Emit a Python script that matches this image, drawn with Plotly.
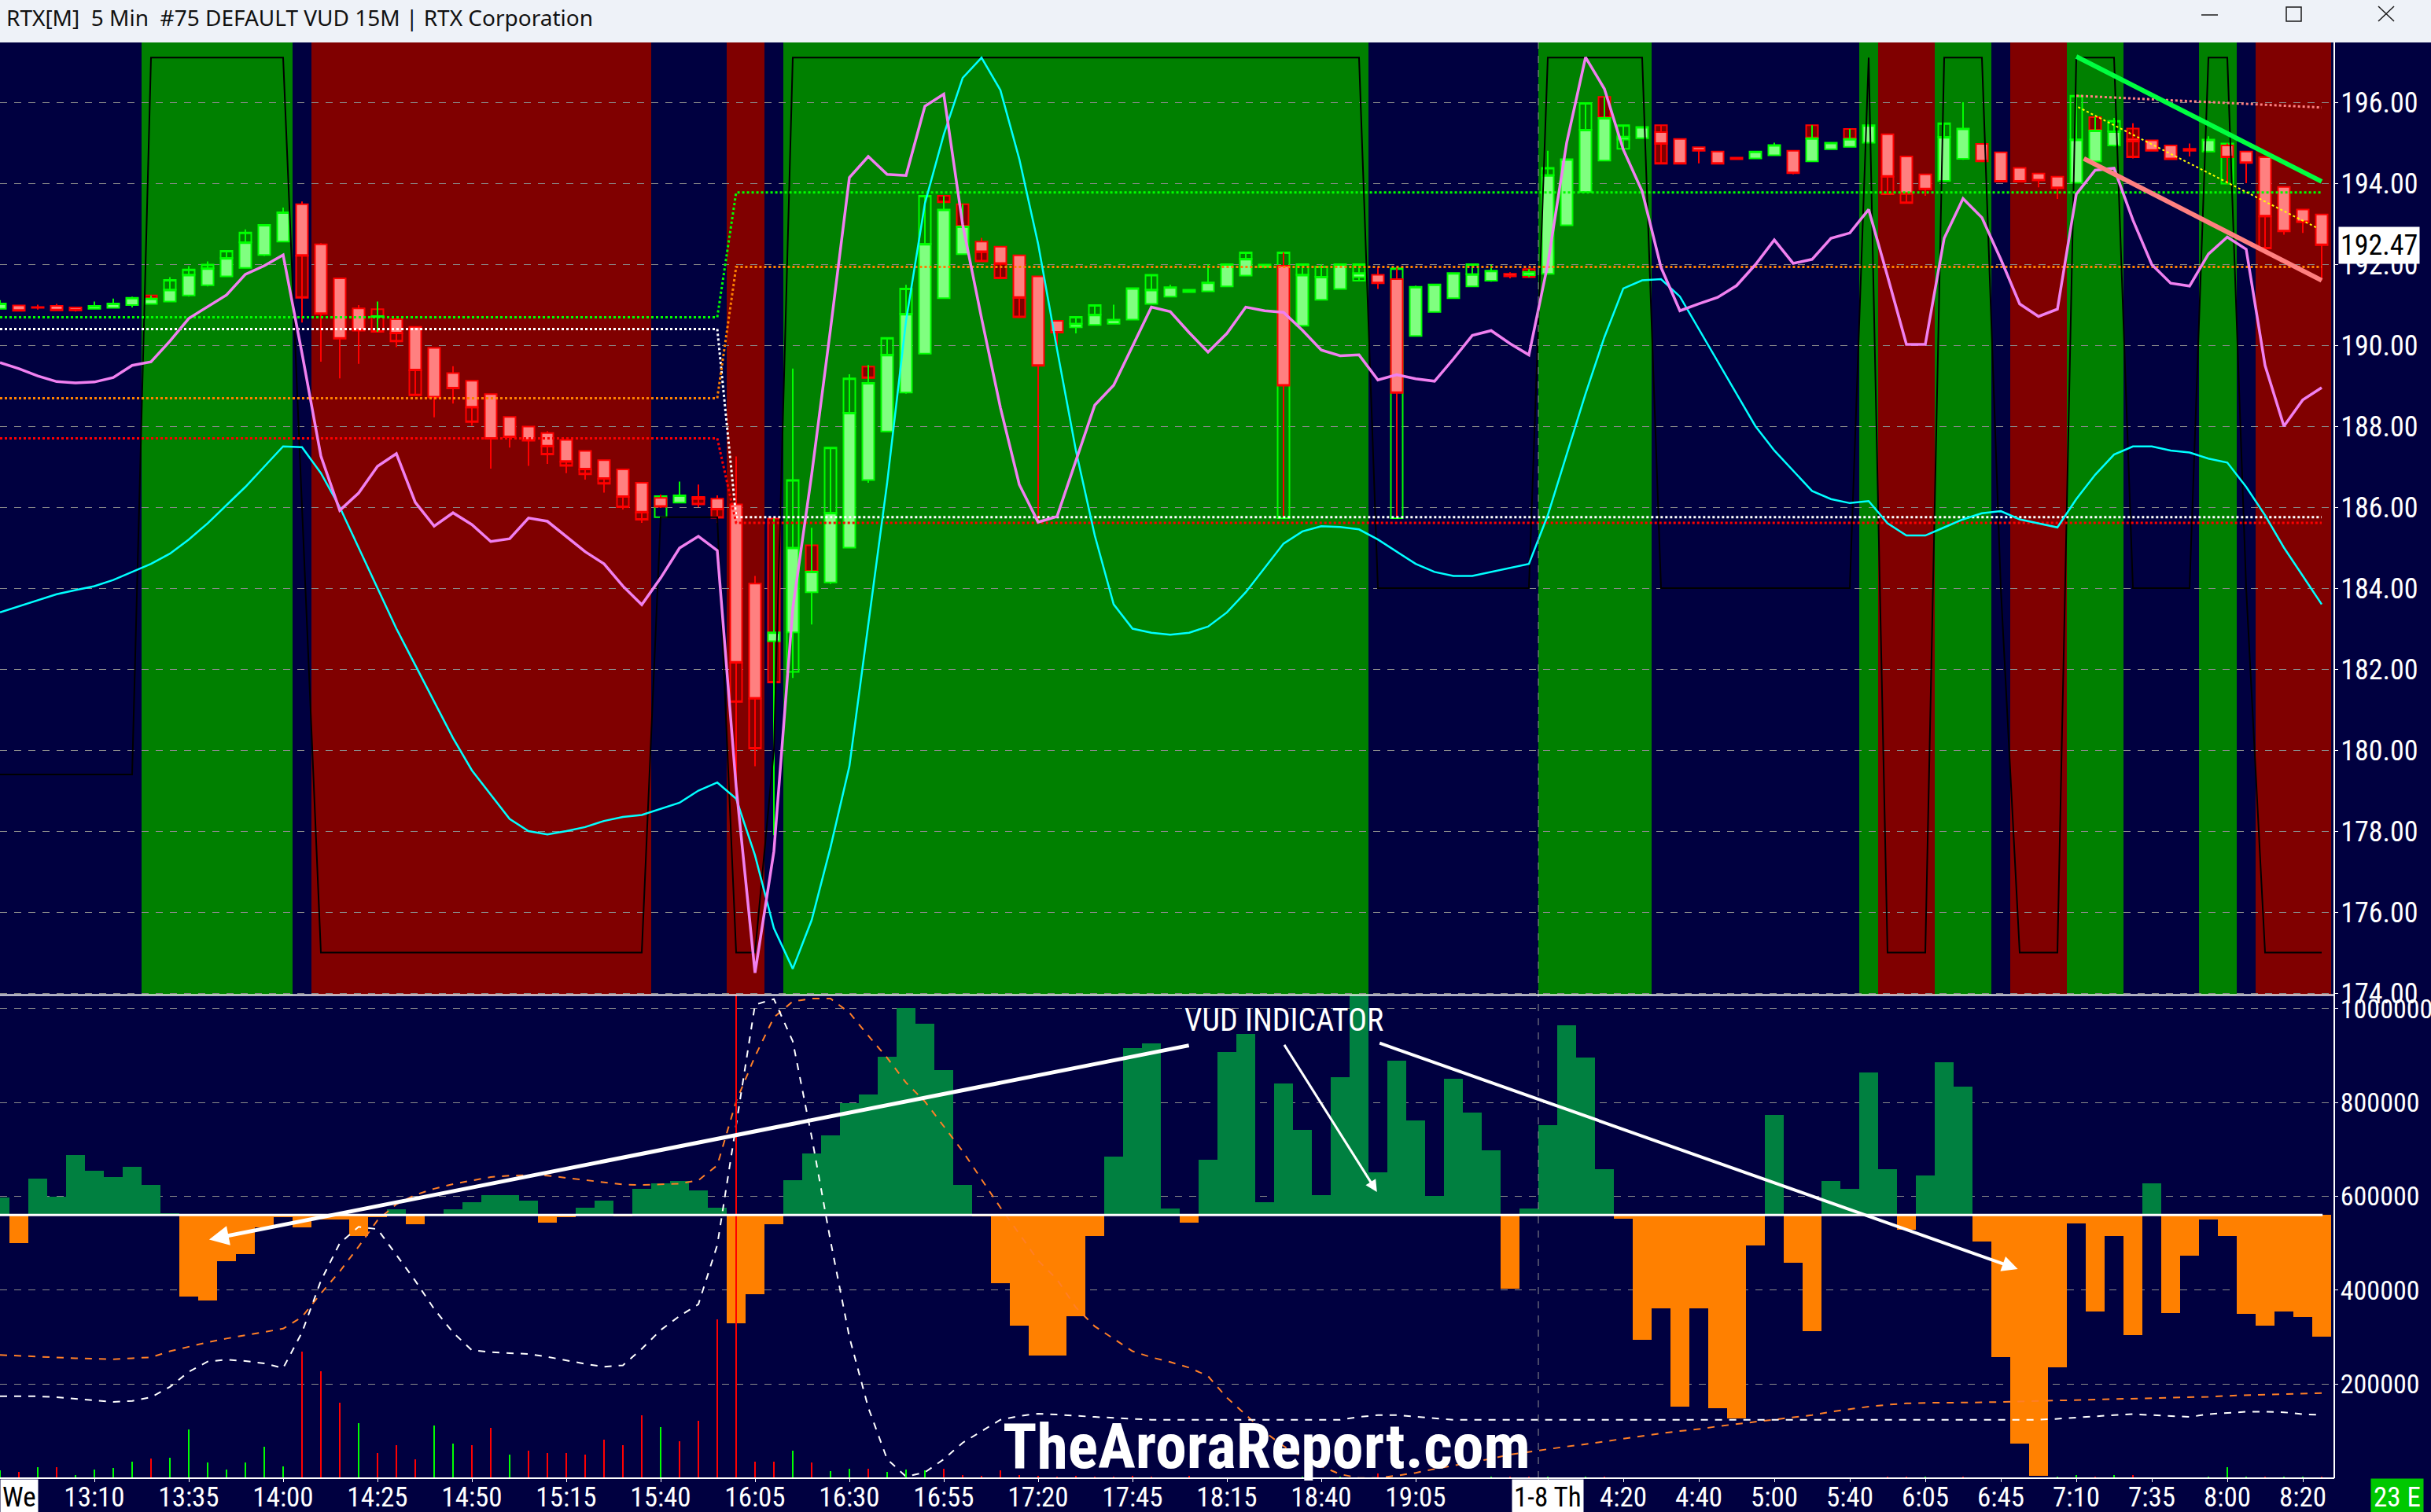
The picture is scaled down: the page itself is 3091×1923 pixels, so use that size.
import plotly.graph_objects as go

# ----------------------------------------------------------------- data
TITLE = "RTX[M]  5 Min  #75 DEFAULT VUD 15M | RTX Corporation"

OPEN = [190.90,190.98,190.94,190.97,190.93,190.90,190.92,190.99,191.02,191.08,
        191.23,191.48,191.70,191.91,192.23,192.56,193.48,192.49,191.65,190.91,
        190.70,190.64,190.45,189.93,189.31,189.12,188.79,188.23,187.99,187.83,
        187.66,187.39,187.16,186.93,186.60,186.23,186.11,186.24,186.21,186.07,
        184.11,182.69,182.91,183.90,184.14,185.00,186.67,187.87,188.83,189.79,
        191.16,192.25,192.56,192.43,192.22,191.70,190.60,190.44,190.50,190.53,
        190.63,191.02,191.20,191.31,191.33,191.45,191.72,191.92,191.96,190.48,
        191.12,191.39,191.68,191.74,191.63,190.23,190.82,191.16,191.45,191.59,
        191.76,191.73,191.76,192.96,193.78,194.56,195.08,195.11,195.26,195.09,
        194.89,194.78,194.63,194.61,194.69,194.80,194.54,194.84,194.90,195.00,
        195.21,194.66,194.22,194.06,194.60,194.97,194.76,194.38,194.24,194.16,
        194.01,194.54,194.93,195.09,195.06,194.93,194.85,194.78,194.93,194.78,
        194.64,193.91,193.35,193.23]
HIGH = [191.11,190.99,191.00,191.02,190.94,191.08,191.15,191.20,191.23,191.68,
        191.95,192.07,192.33,192.86,192.98,193.40,193.55,192.52,191.66,190.99,
        191.08,190.66,190.46,189.94,189.48,189.13,188.80,188.24,188.00,187.88,
        187.67,187.40,187.17,186.94,186.61,186.31,186.63,186.56,186.29,187.25,
        184.30,185.72,189.42,185.49,187.47,189.28,189.51,190.18,191.49,193.69,
        193.69,193.48,192.65,192.45,192.24,191.72,190.62,190.70,190.99,191.00,
        191.42,191.74,191.49,191.39,192.00,192.01,192.29,192.00,192.29,192.00,
        192.00,192.01,192.00,191.92,191.90,191.47,191.52,191.79,192.00,191.99,
        191.80,191.88,194.80,194.60,195.98,196.13,195.43,195.40,195.43,195.10,
        194.90,194.79,194.64,194.79,195.00,194.81,195.43,195.01,195.34,195.44,
        195.22,194.67,194.23,195.48,196.00,194.98,194.77,194.39,194.25,194.17,
        196.16,195.63,195.61,195.48,195.07,194.94,194.98,195.16,194.98,194.79,
        194.65,193.92,193.36,193.24]
LOW = [190.88,190.84,190.88,190.84,190.83,190.89,190.91,190.93,191.00,191.06,
       191.20,191.45,191.68,191.89,192.20,192.54,190.56,189.59,189.18,189.54,
       190.33,189.95,188.76,188.22,188.56,188.01,186.95,187.47,187.02,187.07,
       186.84,186.68,186.36,185.94,185.61,185.98,186.09,186.00,185.61,178.80,
       179.60,177.90,181.78,183.10,184.10,184.98,186.60,187.85,188.80,189.77,
       191.14,192.23,192.07,191.65,190.69,185.67,189.99,190.29,190.48,190.52,
       190.61,191.00,191.18,191.29,191.31,191.43,191.70,191.90,185.73,190.46,
       191.10,191.37,191.59,191.39,185.73,190.21,190.80,191.14,191.43,191.57,
       191.65,191.68,191.74,192.94,193.76,194.54,194.85,195.09,194.48,194.47,
       194.49,194.47,194.58,194.60,194.68,194.22,194.52,194.83,194.88,194.98,
       193.73,193.51,193.69,194.04,194.58,194.53,194.03,194.03,193.90,193.61,
       193.99,194.52,194.91,194.61,194.79,194.58,194.66,194.76,193.99,194.00,
       192.39,192.73,192.77,191.60]
CLOSE = [191.03,190.85,190.92,190.86,190.86,190.97,191.03,191.17,191.15,191.37,
         191.74,191.90,192.15,192.54,192.97,193.28,192.21,190.77,190.16,190.36,
         190.72,190.29,189.38,188.71,188.93,188.46,187.69,187.73,187.64,187.50,
         187.12,186.93,186.70,186.25,185.87,186.01,186.29,186.20,185.94,182.16,
         181.27,182.91,185.00,184.41,185.86,188.33,189.07,189.76,190.77,192.50,
         193.35,192.93,192.30,192.01,191.17,189.49,190.31,190.53,190.75,190.63,
         191.41,191.37,191.43,191.37,191.55,192.00,192.13,191.99,189.00,191.74,
         191.69,192.00,191.78,191.53,188.82,191.44,191.50,191.78,191.75,191.84,
         191.70,191.81,194.20,194.59,195.32,195.61,195.15,195.39,194.97,194.48,
         194.80,194.48,194.59,194.78,194.94,194.25,195.11,195.00,195.09,195.43,
         194.16,193.74,193.85,195.14,195.35,194.54,194.04,194.04,194.07,193.88,
         195.08,195.30,195.28,195.03,194.80,194.59,194.80,195.08,194.64,194.50,
         193.18,192.81,193.04,192.47]
LAST_PRICE = 192.47

# 15-minute "ghost" boxes: bar, top, bottom, direction (u = up / hollow, d = down / filled)
GHOST_BAR = [8,9,10,11,12,13,16,20,21,22,25,29,30,31,32,33,34,35,37,38,39,40,41,42,43,44,45,46,47,48,
             49,50,51,52,53,54,57,58,61,66,68,69,70,72,74,78,81,82,84,85,86,88,96,98,100,101,103,110,
             111,112,113,118,120]
GHOST_TOP = [191.23,191.61,191.87,191.99,192.33,192.78,192.21,190.89,190.29,189.38,188.46,187.50,187.12,
             186.93,186.70,186.25,185.87,186.27,186.25,185.94,182.16,181.27,185.72,186.67,185.06,187.47,
             189.18,189.47,190.18,191.40,193.69,193.69,193.48,192.30,192.01,191.17,190.70,190.99,191.74,
             192.29,192.29,192.00,191.94,192.00,191.90,192.00,191.88,194.38,195.98,196.13,195.43,195.43,
             195.43,195.34,194.16,193.74,195.48,196.16,195.63,195.54,195.35,194.98,193.18]
GHOST_BOT = [191.15,191.37,191.74,191.90,192.15,192.54,191.17,190.33,190.09,188.76,188.10,187.30,187.02,
             186.81,186.58,186.00,185.69,185.75,186.07,185.74,181.19,180.04,181.67,181.93,184.41,185.86,
             188.33,189.19,189.76,190.77,192.50,193.53,192.93,192.07,191.65,190.69,190.53,190.75,191.37,
             192.13,185.73,191.74,191.69,191.59,185.73,191.75,191.68,194.20,195.32,195.61,194.85,194.48,
             195.11,195.09,193.73,193.51,195.14,195.08,195.30,195.28,194.64,193.99,192.39]
GHOST_DIR = ("d" "uuuuu" "d" "ddd" "d" "dddd" "dd" "u" "dd" "ddd" "u" "d" "uu" "d" "uuu" "ddddd"
             "uu" "u" "u" "u" "uu" "u" "u" "u" "d" "u" "u" "d" "u" "d" "dd" "dd" "u" "u" "d" "u" "d" "u" "d")

PINK = [189.57,189.42,189.24,189.10,189.07,189.09,189.20,189.50,189.59,190.10,
        190.66,190.95,191.24,191.75,191.96,192.23,189.80,187.26,185.92,186.35,
        187.01,187.32,186.12,185.53,185.86,185.57,185.15,185.22,185.73,185.65,
        185.28,184.90,184.60,184.05,183.59,184.25,184.99,185.28,184.93,179.10,
        174.50,177.50,183.50,186.80,190.40,194.14,194.66,194.22,194.19,195.90,
        196.20,192.98,190.67,188.46,186.56,185.63,185.77,187.13,188.52,189.01,
        189.98,190.94,190.83,190.31,189.83,190.29,190.94,190.85,190.81,190.37,
        189.88,189.74,189.76,189.14,189.27,189.17,189.11,189.66,190.24,190.36,
        190.04,189.76,192.00,195.00,197.11,196.33,194.83,193.80,191.92,190.85,
        191.02,191.18,191.47,191.99,192.60,192.02,192.12,192.64,192.77,193.35,
        191.70,190.02,190.02,192.64,193.62,193.15,192.12,191.02,190.71,190.89,
        193.73,194.32,194.37,193.09,191.99,191.53,191.46,192.25,192.67,192.37,
        189.50,188.00,188.65,188.95]
CYAN = [183.40,183.55,183.70,183.85,183.95,184.05,184.20,184.40,184.60,184.85,
        185.20,185.60,186.04,186.50,187.00,187.50,187.48,186.84,186.00,185.00,
        184.00,183.00,182.10,181.20,180.30,179.50,178.90,178.30,178.00,177.92,
        178.00,178.10,178.25,178.35,178.40,178.55,178.70,179.00,179.20,178.80,
        177.40,175.60,174.60,175.80,177.60,179.60,183.10,186.60,190.60,193.50,
        195.20,196.60,197.10,196.30,194.60,192.50,189.90,187.40,185.30,183.60,
        183.00,182.90,182.85,182.90,183.05,183.40,183.90,184.50,185.10,185.40,
        185.53,185.51,185.45,185.20,184.90,184.60,184.40,184.30,184.30,184.40,
        184.50,184.60,185.80,187.30,188.80,190.20,191.40,191.60,191.63,191.20,
        190.40,189.60,188.80,188.00,187.40,186.90,186.40,186.20,186.10,186.15,
        185.60,185.30,185.30,185.50,185.70,185.85,185.90,185.70,185.60,185.50,
        186.20,186.80,187.30,187.50,187.50,187.40,187.35,187.20,187.10,186.50,
        185.80,185.00,184.30,183.60]

# background signal runs: (number of bars, state, signal-line level)
BAND_RUNS = [(8, "N", 179.4), (8, "G", 197.1), (1, "N", 186.0), (18, "R", 175.0), (4, "N", 185.75),
             (2, "R", 175.0), (1, "N", 180.0), (31, "G", 197.1), (9, "N", 184.0), (6, "G", 197.1),
             (11, "N", 184.0), (1, "G", 197.1), (3, "R", 175.0), (3, "G", 197.1), (1, "N", 184.0),
             (3, "R", 175.0), (3, "G", 197.1), (4, "N", 184.0), (2, "G", 197.1), (1, "N", 184.0),
             (4, "R", 175.0)]

# dotted support/resistance levels (change at LEVEL_SWITCH_BAR)
LEVEL_SWITCH_BAR = 39
LEVELS_BEFORE = {"green": 190.69, "white": 190.40, "orange": 188.69, "red": 187.70}
LEVELS_AFTER = {"green": 193.77, "white": 185.75, "orange": 191.93, "red": 185.61}
RESIST_X = [110, 123]
RESIST_Y = [196.16, 195.87]

# hand-drawn trend lines (bar, price)
GREEN_TREND_X, GREEN_TREND_Y = [110.0, 123.0], [197.13, 194.04]
SALMON_TREND_X, SALMON_TREND_Y = [110.4, 123.0], [194.61, 191.60]
YELLOW_TREND_X, YELLOW_TREND_Y = [110.1, 122.7], [195.88, 192.91]

# VUD indicator (thousands)
VUD_BASELINE = 560000
VUD_K = [598,501,638,599,688,655,641,662,625,564,
         386,378,462,477,534,555,534,551,551,516,
         556,573,540,562,573,587,603,603,591,543,
         556,576,591,558,616,627,633,613,576,330,
         391,541,635,692,730,799,816,898,1001,967,
         868,625,558,415,325,260,260,344,516,685,
         915,925,574,543,678,908,945,587,840,741,
         603,853,1040,651,888,762,601,851,779,698,
         403,574,752,964,895,657,553,294,361,152,
         361,149,126,496,773,459,312,633,616,863,
         657,528,645,885,833,504,258,74,5,235,
         542,355,516,304,628,351,474,551,516,350,
         324,354,343,301]
WHITE_DASH_K = [174,174,174,172,169,166,162,164,172,194,
                226,248,252,249,244,234,310,420,500,535,
                530,475,420,360,310,272,268,266,264,258,
                250,243,237,240,275,315,345,370,496,749,
                1008,1020,930,727,505,300,150,40,3,12,
                40,75,100,124,132,137,135,132,130,128,
                126,124,124,124,124,124,124,124,124,124,
                124,124,130,134,134,131,128,124,124,124,
                124,124,124,124,124,124,124,124,124,124,
                124,124,124,124,124,124,124,124,124,124,
                124,124,124,124,124,124,124,124,124,126,
                129,132,134,136,134,132,130,136,139,141,
                141,140,136,134]
ORANGE_DASH_K = [262,260,258,257,255,254,253,255,257,270,
                 280,289,297,304,310,318,343,393,440,493,
                 549,583,603,616,626,634,641,644,645,644,
                 639,634,629,625,624,625,627,634,666,802,
                 898,981,1015,1021,1021,991,942,895,842,802,
                 749,696,636,576,520,463,423,363,323,297,
                 270,257,247,235,217,171,134,98,68,44,
                 25,8,0,0,5,11,19,26,34,41,
                 50,56,61,67,72,78,84,90,95,100,
                 104,110,115,120,124,129,134,141,147,152,
                 156,159,160,160,161,161,162,163,163,164,
                 165,166,167,168,169,170,172,173,175,176,
                 177,178,180,181]
VOLUME = [10,8,14,14,4,11,13,21,25,26,
          62,20,11,20,40,15,161,136,96,70,
          32,42,24,67,44,42,64,30,35,32,
          32,30,49,42,80,65,47,73,202,900,
          21,21,35,20,9,12,12,8,11,10,
          12,4,3,10,4,3,2,3,2,2,
          3,2,0,3,0,0,0,0,0,2,
          0,2,0,6,0,0,0,0,0,2,
          2,2,2,0,2,2,0,0,0,0,
          0,0,0,0,0,0,0,0,0,0,
          2,2,2,0,2,0,0,0,0,2,
          4,2,4,4,0,0,0,2,14,2,
          2,2,2,2]
VOLUME_SIDE = ("grgrggggrg" "ggggggrrrg" "rrrggrrgrr" "rrrrrgrrrr" "rrgrggrggg" "rrrrrrrrrr"
               "rrrrrrrrrg" "rgrrrrrrrg" "rrgrgrrrrr" "rrrrrrrrrr" "rrgrrrrrrg" "grgrrrrggg" "rggr")

# annotation arrows on VUD panel: tail bar, tail value, head bar, head value, width
ARROWS = [(63.05, 921800, 11.08, 508000, 5),
          (68.0, 925000, 72.95, 609300, 3),
          (73.03, 927100, 106.9, 445000, 4)]

TICK_BARS = [5,10,15,20,25,30,35,40,45,50,55,60,65,70,75,82,86,90,94,98,102,106,110,114,118,122]
TICK_LABELS = ["13:10","13:35","14:00","14:25","14:50","15:15","15:40","16:05","16:30","16:55",
               "17:20","17:45","18:15","18:40","19:05","","4:20","4:40","5:00","5:40","6:05",
               "6:45","7:10","7:35","8:00","8:20"]
SESSION_BREAK_BAR = 82
PRICE_TICKS = [174,176,178,180,182,184,186,188,190,192,194,196]
VUD_TICKS = [200000,400000,600000,800000,1000000]

# ----------------------------------------------------------------- style
NAVY = "#000040"
BAND_COLOR = {"N": NAVY, "G": "#008000", "R": "#800000"}
NARROW = ("Liberation Sans Narrow, Arial Narrow, Roboto Condensed, Noto Sans Condensed, "
          "DejaVu Sans Condensed, Liberation Sans, sans-serif")
W, H = 3091, 1923
ML, MR, MT, MB = 0, 123, 54, 43
PW, PH = W - ML - MR, H - MT - MB


def px(x):
    return (x - ML) / PW


def py(y):
    return (H - MB - y) / PH


N = len(CLOSE)
BARS = list(range(N))
main_dom = [py(1265), 1.0]
low_dom = [0.0, py(1266)]

fig = go.Figure()

# ---- main panel: background bands and signal line
shapes = []
signal = []
start = 0
for length, state, level in BAND_RUNS:
    shapes.append(dict(type="rect", xref="x", yref="y domain", x0=start - 0.5, x1=start + length - 0.5,
                       y0=0, y1=1, fillcolor=BAND_COLOR[state], line=dict(width=0), layer="below"))
    signal += [level] * length
    start += length

fig.add_trace(go.Scatter(x=BARS, y=signal, mode="lines", line=dict(color="#000000", width=2),
                         xaxis="x", yaxis="y", hoverinfo="skip"))

# ---- ghost (15 min) boxes and candles
g_open = [b if d == "u" else t for t, b, d in zip(GHOST_TOP, GHOST_BOT, GHOST_DIR)]
g_close = [t if d == "u" else b for t, b, d in zip(GHOST_TOP, GHOST_BOT, GHOST_DIR)]
fig.add_trace(go.Candlestick(x=GHOST_BAR, open=g_open, close=g_close, high=GHOST_TOP, low=GHOST_BOT,
                             increasing=dict(fillcolor="rgba(0,0,0,0)", line=dict(color="#00ff00", width=2)),
                             decreasing=dict(fillcolor="#800000", line=dict(color="#ff0000", width=2)),
                             whiskerwidth=0, xaxis="x", yaxis="y", hoverinfo="skip"))
fig.add_trace(go.Candlestick(x=BARS, open=OPEN, high=HIGH, low=LOW, close=CLOSE,
                             increasing=dict(fillcolor="#80ff80", line=dict(color="#00ff00", width=2)),
                             decreasing=dict(fillcolor="#ff8080", line=dict(color="#ff0000", width=2)),
                             whiskerwidth=0, xaxis="x", yaxis="y", hoverinfo="skip"))

# ---- dotted levels
level_colors = {"green": "#00ff00", "white": "#ffffff", "orange": "#ff8000", "red": "#ff0000"}
for name, col in level_colors.items():
    ys = [LEVELS_BEFORE[name] if i < LEVEL_SWITCH_BAR else LEVELS_AFTER[name] for i in BARS]
    fig.add_trace(go.Scatter(x=BARS, y=ys, mode="lines", line=dict(color=col, width=3, dash="dot"),
                             xaxis="x", yaxis="y", hoverinfo="skip"))
fig.add_trace(go.Scatter(x=RESIST_X, y=RESIST_Y, mode="lines", line=dict(color="#ff8080", width=3, dash="dot"),
                         xaxis="x", yaxis="y", hoverinfo="skip"))

# ---- oscillator lines
fig.add_trace(go.Scatter(x=BARS, y=CYAN, mode="lines", line=dict(color="#00ffff", width=2.5),
                         xaxis="x", yaxis="y", hoverinfo="skip"))
fig.add_trace(go.Scatter(x=BARS, y=PINK, mode="lines", line=dict(color="#f080f0", width=3.5),
                         xaxis="x", yaxis="y", hoverinfo="skip"))

# ---- trend lines
fig.add_trace(go.Scatter(x=GREEN_TREND_X, y=GREEN_TREND_Y, mode="lines", line=dict(color="#00ff40", width=6),
                         xaxis="x", yaxis="y", hoverinfo="skip"))
fig.add_trace(go.Scatter(x=SALMON_TREND_X, y=SALMON_TREND_Y, mode="lines", line=dict(color="#ff8080", width=6),
                         xaxis="x", yaxis="y", hoverinfo="skip"))
fig.add_trace(go.Scatter(x=YELLOW_TREND_X, y=YELLOW_TREND_Y, mode="lines",
                         line=dict(color="#ffff00", width=2, dash="dot"),
                         xaxis="x", yaxis="y", hoverinfo="skip"))

# ---- lower panel: VUD histogram
vud = [v * 1000 for v in VUD_K]
fig.add_trace(go.Bar(x=BARS, y=[v - VUD_BASELINE for v in vud], base=VUD_BASELINE, width=1.0,
                     marker=dict(color=["#008040" if v >= VUD_BASELINE else "#ff8000" for v in vud],
                                 line=dict(width=0)),
                     xaxis="x2", yaxis="y2", hoverinfo="skip"))
fig.add_trace(go.Scatter(x=BARS, y=[v * 1000 for v in ORANGE_DASH_K], mode="lines",
                         line=dict(color="#ff7f27", width=2, dash="dash"), xaxis="x2", yaxis="y2", hoverinfo="skip"))
fig.add_trace(go.Scatter(x=BARS, y=[v * 1000 for v in WHITE_DASH_K], mode="lines",
                         line=dict(color="#ffffff", width=2, dash="dash"), xaxis="x2", yaxis="y2", hoverinfo="skip"))
fig.add_trace(go.Bar(x=BARS, y=VOLUME, width=0.09,
                     marker=dict(color=["#00ff00" if s == "g" else "#ff0000" for s in VOLUME_SIDE],
                                 line=dict(width=0)),
                     xaxis="x2", yaxis="y3", hoverinfo="skip"))

# ---- structural lines
white = dict(color="#ffffff", width=2)
shapes += [
    dict(type="line", xref="x2 domain", yref="y2", x0=0, x1=0.995, y0=VUD_BASELINE, y1=VUD_BASELINE,
         line=dict(color="#ffffff", width=3)),
    dict(type="line", xref="x", yref="paper", x0=SESSION_BREAK_BAR - 0.5, x1=SESSION_BREAK_BAR - 0.5,
         y0=0, y1=main_dom[1], line=dict(color="#909090", width=1, dash="dash")),
    dict(type="line", xref="paper", yref="paper", x0=1, x1=1, y0=0, y1=1, line=white),
    dict(type="line", xref="paper", yref="paper", x0=0, x1=1, y0=py(1265.5), y1=py(1265.5), line=white),
    dict(type="line", xref="paper", yref="paper", x0=0, x1=1, y0=0, y1=0, line=white),
    # window title bar
    dict(type="rect", xref="paper", yref="paper", x0=px(0), x1=px(W), y0=py(54), y1=py(0),
         fillcolor="#eef2f8", line=dict(width=0), layer="above"),
    dict(type="line", xref="paper", yref="paper", x0=px(2799), x1=px(2820), y0=py(19), y1=py(19),
         line=dict(color="#1a1a1a", width=1.5), layer="above"),
    dict(type="rect", xref="paper", yref="paper", x0=px(2907), x1=px(2926), y0=py(27), y1=py(9),
         line=dict(color="#1a1a1a", width=1.5), layer="above"),
    dict(type="line", xref="paper", yref="paper", x0=px(3024), x1=px(3044), y0=py(8), y1=py(27),
         line=dict(color="#1a1a1a", width=1.5), layer="above"),
    dict(type="line", xref="paper", yref="paper", x0=px(3024), x1=px(3044), y0=py(27), y1=py(8),
         line=dict(color="#1a1a1a", width=1.5), layer="above"),
]

annotations = [
    dict(text=TITLE, xref="paper", yref="paper", x=px(6), y=py(22), xanchor="left", yanchor="middle",
         showarrow=False, font=dict(family="Noto Sans, Open Sans, sans-serif", size=28, color="#111111")),
    dict(text=f"{LAST_PRICE:.2f}", xref="paper", yref="y", x=px(2973), y=LAST_PRICE, xanchor="left",
         yanchor="middle", showarrow=False, bgcolor="#ffffff", borderpad=2,
         font=dict(family=NARROW, size=36, color="#000000")),
    dict(text="We", xref="paper", yref="paper", x=0, y=py(1904), xanchor="left", yanchor="middle",
         showarrow=False, bgcolor="#ffffff", borderpad=2, font=dict(family=NARROW, size=35, color="#000000")),
    dict(text="1-8 Th", xref="x2", yref="paper", x=SESSION_BREAK_BAR, y=py(1904), xanchor="center",
         yanchor="middle", showarrow=False, bgcolor="#ffffff", borderpad=2,
         font=dict(family=NARROW, size=35, color="#000000")),
    dict(text="23 E", xref="paper", yref="paper", x=px(3014), y=py(1904), xanchor="left", yanchor="middle",
         showarrow=False, bgcolor="#00c800", borderpad=3, font=dict(family=NARROW, size=35, color="#ffffff")),
    dict(text="VUD INDICATOR", xref="paper", yref="paper", x=px(1633), y=py(1297), xanchor="center",
         yanchor="middle", showarrow=False, font=dict(family=NARROW, size=40, color="#ffffff")),
    dict(text="<b>TheAroraReport.com</b>", xref="paper", yref="paper", x=px(1611), y=py(1840),
         xanchor="center", yanchor="middle", showarrow=False,
         font=dict(family=NARROW, size=80, color="#ffffff")),
]
for tx, tv, hx, hv, wdt in ARROWS:
    annotations.append(dict(x=hx, y=hv, xref="x2", yref="y2", ax=tx, ay=tv, axref="x2", ayref="y2",
                            showarrow=True, arrowhead=2, arrowsize=1, arrowwidth=wdt,
                            arrowcolor="#ffffff", text=""))

fig.update_layout(
    width=W, height=H, autosize=False, margin=dict(l=ML, r=MR, t=MT, b=MB, pad=0, autoexpand=False),
    paper_bgcolor=NAVY, plot_bgcolor=NAVY, showlegend=False, hovermode=False,
    boxgap=0.22, boxgroupgap=0.2, bargap=0,
    shapes=shapes, annotations=annotations,
    xaxis=dict(domain=[0, 1], anchor="y", range=[0, PW / 24], showticklabels=False, showgrid=False,
               zeroline=False, ticks="", automargin=False, rangeslider=dict(visible=False)),
    xaxis2=dict(domain=[0, 1], anchor="y2", matches="x", range=[0, PW / 24], showgrid=False, zeroline=False,
                tickmode="array", tickvals=TICK_BARS, ticktext=TICK_LABELS, ticks="outside", ticklen=4,
                ticklabelstandoff=-11,
                tickcolor="#ffffff", automargin=False, tickfont=dict(family=NARROW, size=35, color="#ffffff")),
    yaxis=dict(domain=main_dom, anchor="x", side="right",
               range=[196 - (1265 - 130) / 51.5, 196 + (130 - 54) / 51.5],
               tickmode="array", tickvals=PRICE_TICKS, ticktext=[f"{t:.2f}" for t in PRICE_TICKS],
               ticks="outside", ticklen=4, ticklabelstandoff=-4, tickcolor="#ffffff",
               tickfont=dict(family=NARROW, size=36, color="#ffffff"), automargin=False,
               showgrid=True, gridcolor="#8a8a8a", griddash="dash", gridwidth=1, zeroline=False),
    yaxis2=dict(domain=low_dom, anchor="x2", side="right", range=[-460, 1027800],
                tickmode="array", tickvals=VUD_TICKS, ticktext=[str(t) for t in VUD_TICKS],
                ticks="outside", ticklen=4, ticklabelstandoff=-4, tickcolor="#ffffff",
                tickfont=dict(family=NARROW, size=34, color="#ffffff"), automargin=False,
                showgrid=True, gridcolor="#8a8a8a", griddash="dash", gridwidth=1, zeroline=False),
    yaxis3=dict(overlaying="y2", anchor="x2", range=[0, low_dom[1] * PH], visible=False, automargin=False),
)

fig.write_html("out.html", config={"displayModeBar": False},
               post_script="document.body.style.margin='0px';document.body.style.overflow='hidden';")
